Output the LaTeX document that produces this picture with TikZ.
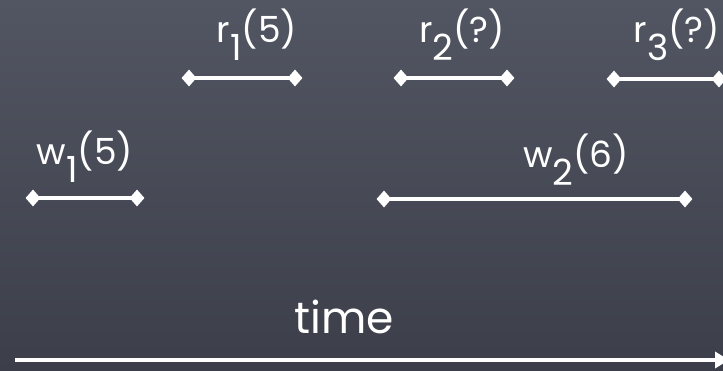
\documentclass[tikz,border=0pt]{standalone}
\usepackage{fontspec}
\setmainfont{Poppins}
\usetikzlibrary{arrows.meta,shapes.geometric}
\newcommand\lowsub[1]{\raisebox{-0.5em}{#1}}
\definecolor{boardtop}{RGB}{82,86,98}
\definecolor{boardbot}{RGB}{60,63,74}
\tikzset{
  lbl/.style={text=white, anchor=base, inner sep=0pt, font=\fontsize{36}{40}\selectfont},
  endpt/.style={diamond, fill=white, inner sep=0pt, minimum width=15pt, minimum height=17pt},
  interval/.style={draw=white, line width=4.5pt},
  timeline/.style={draw=white, line width=4.5pt, -{Triangle[length=14pt,width=16pt]}}
}
\begin{document}
\begin{tikzpicture}[x=1pt,y=-1pt]
\useasboundingbox (0,0) rectangle (723,371);
\shade[top color=boardtop, bottom color=boardbot] (0,0) rectangle (723,371);
\clip (0,0) rectangle (723,371);
% reads
\node[lbl] (r1) at (257,43) {r\lowsub{1}(5)};
\node[endpt] (r1a) at (189,78) {}; \node[endpt] (r1b) at (295,78) {};
\draw[interval] (r1a.center) -- (r1b.center);
\node[lbl] (r2) at (462,43) {r\lowsub{2}(?)};
\node[endpt] (r2a) at (401,78) {}; \node[endpt] (r2b) at (507,78) {};
\draw[interval] (r2a.center) -- (r2b.center);
\node[lbl] (r3) at (677,43) {r\lowsub{3}(?)};
\node[endpt] (r3a) at (614,79) {}; \node[endpt] (r3b) at (719,79) {};
\draw[interval] (r3a.center) -- (r3b.center);
% writes
\node[lbl] (w1) at (85,165) {w\lowsub{1}(5)};
\node[endpt] (w1a) at (33,198) {}; \node[endpt] (w1b) at (137,198) {};
\draw[interval] (w1a.center) -- (w1b.center);
\node[lbl] (w2) at (576,168) {w\lowsub{2}(6)};
\node[endpt] (w2a) at (384,199) {}; \node[endpt] (w2b) at (685,199) {};
\draw[interval] (w2a.center) -- (w2b.center);
% time axis
\node[lbl, font=\fontsize{44}{48}\selectfont] (time) at (344,334) {time};
\coordinate (t0) at (15,360); \coordinate (t1) at (729,360);
\draw[timeline] (t0) -- (t1);
\end{tikzpicture}
\end{document}
